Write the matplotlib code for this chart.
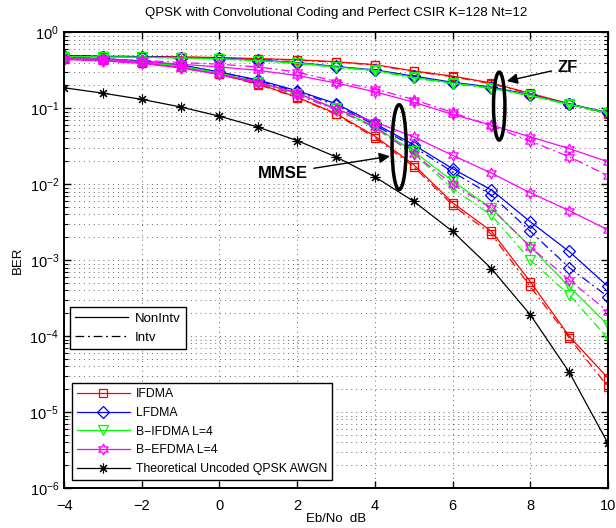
import matplotlib.pyplot as plt
from matplotlib.lines import Line2D
from matplotlib.patches import Ellipse
from matplotlib.ticker import NullFormatter

plt.rcParams['font.family'] = ['Liberation Sans', 'DejaVu Sans']
plt.rcParams['mathtext.default'] = 'regular'

# ---- data ----
snr = list(range(-4, 11))

theory = [0.186, 0.158, 0.131, 0.104, 0.0786, 0.0563, 0.0375, 0.0229, 0.0125,
          0.00595, 0.00239, 0.000773, 0.000191, 3.36e-5, 3.87e-6]

# ZF, non-interleaved / interleaved
ifdma_zf_n = [0.49, 0.485, 0.48, 0.475, 0.465, 0.45, 0.435, 0.41, 0.375, 0.31, 0.265, 0.215, 0.157, 0.115, 0.085]
ifdma_zf_i = [0.49, 0.485, 0.48, 0.472, 0.46, 0.445, 0.43, 0.405, 0.37, 0.305, 0.26, 0.21, 0.154, 0.113, 0.084]
lfdma_zf_n = [0.49, 0.48, 0.475, 0.465, 0.455, 0.43, 0.40, 0.355, 0.32, 0.265, 0.22, 0.19, 0.15, 0.114, 0.088]
lfdma_zf_i = [0.49, 0.48, 0.473, 0.463, 0.45, 0.425, 0.395, 0.35, 0.315, 0.26, 0.215, 0.187, 0.148, 0.113, 0.087]
bifdma_zf_n = [0.48, 0.475, 0.47, 0.46, 0.45, 0.425, 0.395, 0.35, 0.315, 0.255, 0.215, 0.185, 0.148, 0.113, 0.087]
bifdma_zf_i = [0.48, 0.475, 0.468, 0.458, 0.445, 0.42, 0.39, 0.345, 0.31, 0.25, 0.21, 0.182, 0.146, 0.111, 0.085]
befdma_zf_n = [0.45, 0.44, 0.41, 0.38, 0.35, 0.315, 0.27, 0.215, 0.165, 0.12, 0.083, 0.06, 0.042, 0.0295, 0.0197]
befdma_zf_i = [0.45, 0.44, 0.43, 0.40, 0.38, 0.35, 0.30, 0.225, 0.18, 0.13, 0.088, 0.058, 0.037, 0.023, 0.013]

# MMSE, non-interleaved / interleaved
ifdma_mmse_n = [0.45, 0.43, 0.40, 0.35, 0.28, 0.21, 0.14, 0.085, 0.043, 0.018, 0.0057, 0.0024, 0.00052, 0.0001, 2.8e-5]
ifdma_mmse_i = [0.45, 0.43, 0.40, 0.35, 0.28, 0.205, 0.138, 0.083, 0.041, 0.017, 0.0053, 0.0022, 0.00045, 9.5e-5, 2.15e-5]
lfdma_mmse_n = [0.47, 0.45, 0.42, 0.37, 0.30, 0.235, 0.17, 0.115, 0.063, 0.033, 0.016, 0.0084, 0.0032, 0.0013, 0.00045]
lfdma_mmse_i = [0.47, 0.45, 0.42, 0.37, 0.30, 0.23, 0.165, 0.11, 0.06, 0.031, 0.0145, 0.0072, 0.0024, 0.0008, 0.00033]
bifdma_mmse_n = [0.46, 0.44, 0.41, 0.36, 0.29, 0.22, 0.155, 0.10, 0.057, 0.027, 0.011, 0.0048, 0.0015, 0.00045, 0.00014]
bifdma_mmse_i = [0.46, 0.44, 0.41, 0.36, 0.29, 0.215, 0.15, 0.097, 0.055, 0.025, 0.0088, 0.0039, 0.001, 0.00035, 9.3e-5]
befdma_mmse_n = [0.44, 0.42, 0.39, 0.34, 0.28, 0.22, 0.16, 0.097, 0.066, 0.042, 0.024, 0.014, 0.0077, 0.0045, 0.0025]
befdma_mmse_i = [0.44, 0.42, 0.39, 0.34, 0.28, 0.215, 0.15, 0.095, 0.057, 0.025, 0.010, 0.0048, 0.0015, 0.00055, 0.00021]

names = ['IFDMA', 'LFDMA', 'B\u2212IFDMA L=4', 'B\u2212EFDMA L=4']
colors = ['#ff0000', '#0000ff', '#00ff00', '#ff00ff']
markers = ['s', 'D', 'v', (6, 1, 0)]
msizes = [6, 6, 7, 8]
zf_n = [ifdma_zf_n, lfdma_zf_n, bifdma_zf_n, befdma_zf_n]
zf_i = [ifdma_zf_i, lfdma_zf_i, bifdma_zf_i, befdma_zf_i]
mmse_n = [ifdma_mmse_n, lfdma_mmse_n, bifdma_mmse_n, befdma_mmse_n]
mmse_i = [ifdma_mmse_i, lfdma_mmse_i, bifdma_mmse_i, befdma_mmse_i]

dashdot = (0, (7, 3, 1.5, 3))
griddots = (0, (1, 4))

fig = plt.figure(figsize=(6.16, 5.28), dpi=100)
ax = fig.add_axes([0.104, 0.0758, 0.883, 0.863])

handles = []
for k in range(4):
    style = dict(color=colors[k], marker=markers[k], ms=msizes[k],
                 mfc='none', mew=0.9, lw=0.9)
    h, = ax.semilogy(snr, mmse_n[k], ls='-', label=names[k], **style)
    ax.semilogy(snr, mmse_i[k], ls=dashdot, **style)
    ax.semilogy(snr, zf_n[k], ls='-', **style)
    ax.semilogy(snr, zf_i[k], ls=dashdot, **style)
    handles.append(h)
h, = ax.semilogy(snr, theory, color='k', marker=(8, 2, 0), ms=7, mew=0.8,
                 lw=0.9, label='Theoretical Uncoded QPSK AWGN')
handles.append(h)

ax.set_xlim(-4, 10)
ax.set_ylim(1e-6, 1)
ax.set_xticks(range(-4, 11, 2))
ax.set_xticklabels(['\u22124', '\u22122', '0', '2', '4', '6', '8', '10'])
ax.set_yticks([1e-6, 1e-5, 1e-4, 1e-3, 1e-2, 1e-1, 1])
ax.yaxis.set_minor_formatter(NullFormatter())
ax.set_ylim(1e-6, 1)
ax.grid(True, which='major', ls=griddots, color='k', lw=0.7, alpha=0.6)
ax.grid(True, which='minor', axis='y', ls=griddots, color='k', lw=0.7, alpha=0.6)
ax.tick_params(which='both', direction='in', top=True, right=True, labelsize=10.5)
ax.tick_params(which='major', length=5, width=1)
ax.tick_params(which='minor', length=3, width=0.8)
ax.tick_params(axis='x', pad=8)
for s in ax.spines.values():
    s.set_linewidth(1.4)

ax.set_title('QPSK with Convolutional Coding and Perfect CSIR K=128 Nt=12', fontsize=9.5, pad=12)
ax.set_xlabel('Eb/No  dB', fontsize=9.5, labelpad=0)
ax.set_ylabel('BER', fontsize=9.5, labelpad=4)

leg1 = ax.legend(handles=handles, loc='lower left', bbox_to_anchor=(0.0147, 0.0175),
                 borderaxespad=0, fontsize=8.8, handlelength=4.3, handletextpad=0.5,
                 labelspacing=0.55, fancybox=False, edgecolor='k', framealpha=1)
leg1.get_frame().set_linewidth(1.0)
ax.add_artist(leg1)

proxy = [Line2D([], [], color='k', lw=0.9, ls='-'),
         Line2D([], [], color='k', lw=0.9, ls=dashdot)]
leg2 = ax.legend(proxy, ['NonIntv', 'Intv'], loc='lower left', bbox_to_anchor=(0.011, 0.305),
                 borderaxespad=0, fontsize=9.5, handlelength=4.0, handletextpad=0.5,
                 labelspacing=0.5, fancybox=False, edgecolor='k', framealpha=1)
leg2.get_frame().set_linewidth(1.0)

# ellipses and arrows marking the curve groups
ax.add_patch(Ellipse((0.616, 0.748), 0.026, 0.186, transform=ax.transAxes,
                     fill=False, ec='k', lw=2.5, zorder=5))
ax.add_patch(Ellipse((0.800, 0.838), 0.021, 0.149, transform=ax.transAxes,
                     fill=False, ec='k', lw=2.5, zorder=5))
ax.annotate('MMSE', xy=(0.599, 0.728), xycoords='axes fraction',
            xytext=(0.403, 0.691), textcoords='axes fraction',
            fontsize=12, fontweight='bold', ha='center', va='center',
            arrowprops=dict(arrowstyle='-|>', color='k', lw=1, mutation_scale=16, shrinkA=2, shrinkB=0))
ax.annotate('ZF', xy=(0.814, 0.893), xycoords='axes fraction',
            xytext=(0.925, 0.923), textcoords='axes fraction',
            fontsize=12, fontweight='bold', ha='center', va='center',
            arrowprops=dict(arrowstyle='-|>', color='k', lw=1, mutation_scale=16, shrinkA=2, shrinkB=0))

plt.savefig('out.png', dpi=100)
